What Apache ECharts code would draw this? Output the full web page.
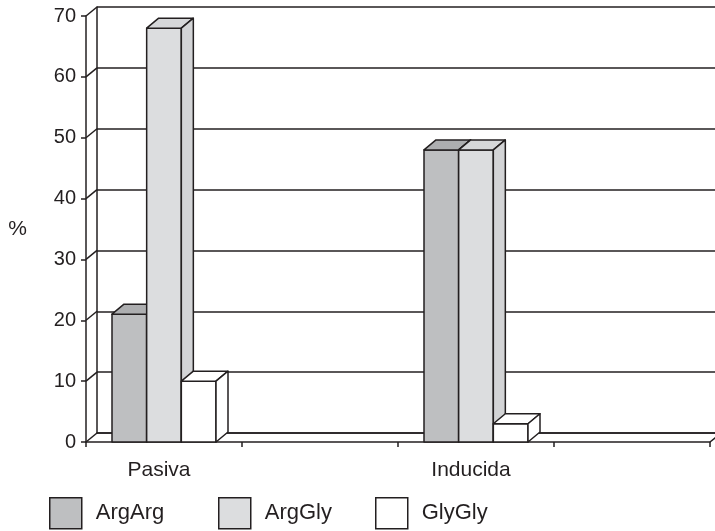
<!DOCTYPE html>
<html>
<head>
<meta charset="utf-8">
<script src="https://cdn.jsdelivr.net/npm/echarts@6/dist/echarts.min.js"></script>
<style>
  html, body { margin: 0; padding: 0; background: #ffffff; }
  #chart { width: 715px; height: 531px; }
</style>
</head>
<body>
<div id="chart"></div>
<script>
// Groups shown on the horizontal axis
const categories = ['Pasiva', 'Inducida'];
// Percentage of each genotype per group
const argArg = [21, 48];
const argGly = [68, 48];
const glyGly = [10, 3];
// Value axis ticks
const yTicks = [0, 10, 20, 30, 40, 50, 60, 70];
const seriesNames = ['ArgArg', 'ArgGly', 'GlyGly'];

// Each group is followed by an empty slot on the axis
const axisCategories = categories.flatMap(c => [c, '']);

const INK = '#231f20';
const LINE_W = 1.5;
const FONT = "'Liberation Sans', Arial, Helvetica, sans-serif";
// Depth offsets of the pseudo-3D walls and columns
const WALL_DX = 11, WALL_DY = -9;
const BAR_DX = 12, BAR_DY = -10;

const palette = [
  { front: '#bebfc1', top: '#adaeb0', side: '#a9aaac' },
  { front: '#dcdddf', top: '#d6d7d9', side: '#d3d4d6' },
  { front: '#ffffff', top: '#ffffff', side: '#ffffff' }
];

function poly(points, fill) {
  return {
    type: 'polygon',
    shape: { points: points },
    style: { fill: fill, stroke: INK, lineWidth: LINE_W, lineJoin: 'round' }
  };
}

function columnRenderer(slot) {
  const col = palette[slot];
  return function (params, api) {
    const cat = api.value(0);
    const v = api.value(1);
    const base = api.coord([cat, 0]);
    const top = api.coord([cat, v]);
    const band = api.size([1, 0])[0];
    const bw = band * 2 / 9;
    const x0 = base[0] - 1.5 * bw + slot * bw;
    const x1 = x0 + bw;
    const y0 = base[1];
    const y1 = top[1];
    return {
      type: 'group',
      children: [
        poly([[x0, y0], [x1, y0], [x1, y1], [x0, y1]], col.front),
        poly([[x0, y1], [x1, y1], [x1 + BAR_DX, y1 + BAR_DY], [x0 + BAR_DX, y1 + BAR_DY]], col.top),
        poly([[x1, y0], [x1 + BAR_DX, y0 + BAR_DY], [x1 + BAR_DX, y1 + BAR_DY], [x1, y1]], col.side)
      ]
    };
  };
}

// Side wall and floor edges joining the front axes to the back wall
function edgeRenderer(params, api) {
  const v = api.value(1);
  const p = api.coord([0, v]);
  const band = api.size([1, 0])[0];
  const left = p[0] - band / 2;
  const children = [{
    type: 'line',
    shape: { x1: left, y1: p[1], x2: left + WALL_DX, y2: p[1] + WALL_DY },
    style: { stroke: INK, lineWidth: LINE_W }
  }];
  if (v === 0) {
    const right = left + band * axisCategories.length;
    children.push({
      type: 'line',
      shape: { x1: right, y1: p[1], x2: right + WALL_DX, y2: p[1] + WALL_DY },
      style: { stroke: INK, lineWidth: LINE_W }
    });
  }
  return { type: 'group', children: children };
}

const seriesData = [argArg, argGly, glyGly];

const legendPos = [49, 218, 375];
const legends = seriesNames.map((name, i) => ({
  data: [{
    name: name,
    itemStyle: { color: palette[i].front, borderColor: INK, borderWidth: LINE_W }
  }],
  left: legendPos[i],
  top: 497,
  padding: 0,
  orient: 'horizontal',
  icon: 'rect',
  itemWidth: 32,
  itemHeight: 31,
  selectedMode: false,
  textStyle: { fontFamily: FONT, fontSize: 22, color: INK, padding: [0, 0, 0, 9] }
}));

const option = {
  backgroundColor: '#ffffff',
  animation: false,
  legend: legends,
  grid: [
    // front plane
    { left: 86, top: 16, width: 624, height: 426 },
    // back wall plane
    { left: 86 + WALL_DX, top: 16 + WALL_DY, width: 624, height: 426 }
  ],
  xAxis: [
    {
      gridIndex: 0,
      type: 'category',
      data: axisCategories,
      boundaryGap: true,
      axisLine: { lineStyle: { color: INK, width: LINE_W } },
      axisTick: { show: true, length: 5, inside: false, lineStyle: { color: INK, width: LINE_W } },
      axisLabel: {
        fontFamily: FONT, fontSize: 21, color: INK, margin: 18,
        interval: 0, padding: [0, 10, 0, 0]
      },
      splitLine: { show: false }
    },
    {
      gridIndex: 1,
      type: 'category',
      data: axisCategories,
      boundaryGap: true,
      axisLine: { lineStyle: { color: INK, width: LINE_W } },
      axisTick: { show: false },
      axisLabel: { show: false },
      splitLine: { show: false }
    }
  ],
  yAxis: [
    {
      gridIndex: 0,
      type: 'value',
      min: yTicks[0],
      max: yTicks[yTicks.length - 1],
      interval: yTicks[1] - yTicks[0],
      name: '%',
      nameLocation: 'middle',
      nameRotate: 0,
      nameGap: 59,
      nameTextStyle: { fontFamily: FONT, fontSize: 21, color: INK },
      axisLine: { show: true, lineStyle: { color: INK, width: LINE_W } },
      axisTick: { show: true, length: 5, inside: false, lineStyle: { color: INK, width: LINE_W } },
      axisLabel: { fontFamily: FONT, fontSize: 20, color: INK, margin: 10 },
      splitLine: { show: false }
    },
    {
      gridIndex: 1,
      type: 'value',
      min: yTicks[0],
      max: yTicks[yTicks.length - 1],
      interval: yTicks[1] - yTicks[0],
      axisLine: { show: true, lineStyle: { color: INK, width: LINE_W } },
      axisTick: { show: false },
      axisLabel: { show: false },
      splitLine: { show: true, lineStyle: { color: INK, width: LINE_W } }
    }
  ],
  series: [
    {
      type: 'custom',
      name: 'edges',
      xAxisIndex: 0,
      yAxisIndex: 0,
      renderItem: edgeRenderer,
      data: yTicks.map(v => [0, v]),
      silent: true,
      clip: false,
      z: 1
    }
  ].concat(seriesNames.map((name, i) => ({
    type: 'custom',
    name: name,
    xAxisIndex: 0,
    yAxisIndex: 0,
    renderItem: columnRenderer(i),
    itemStyle: { color: palette[i].front, borderColor: INK, borderWidth: LINE_W },
    data: seriesData[i].map((v, k) => [axisCategories.indexOf(categories[k]), v]),
    clip: false,
    z: 2 + i
  })))
};

const chart = echarts.init(document.getElementById('chart'), null, { renderer: 'canvas' });
chart.setOption(option);
</script>
</body>
</html>
